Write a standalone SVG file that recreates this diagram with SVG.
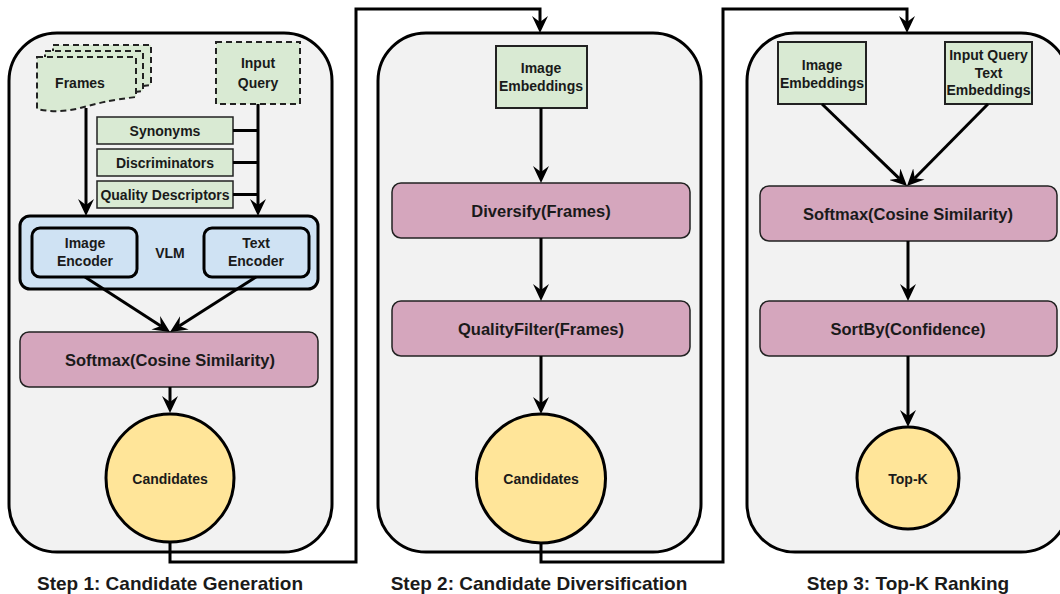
<svg xmlns="http://www.w3.org/2000/svg" width="1060" height="594" viewBox="0 0 1060 594">
<style>
text{font-family:"Liberation Sans",Arial,sans-serif;font-weight:bold;fill:#1a1a1a;text-anchor:middle}
.panel{fill:#f2f2f2;stroke:#000;stroke-width:3}
.green{fill:#d9ead3;stroke:#222;stroke-width:1.5}
.dash{fill:#d9ead3;stroke:#222;stroke-width:2;stroke-dasharray:6 4}
.blue{fill:#cfe2f3;stroke:#000;stroke-width:3}
.pink{fill:#d5a6bd;stroke:#222;stroke-width:1.5}
.yellow{fill:#ffe599;stroke:#000;stroke-width:3}
.edge{fill:none;stroke:#000;stroke-width:3}
.t12{font-size:14px}
.t13{font-size:16.5px}
.t16{font-size:19px}
</style>
<defs>
<marker id="arr" markerUnits="userSpaceOnUse" markerWidth="18" markerHeight="16" viewBox="0 0 18 16" refX="6" refY="8" orient="auto">
<path d="M0,0 L17,8 L0,16 L6,8 Z" fill="#000"/>
</marker>
</defs>
<g id="panel1"><rect class="panel" x="9" y="33" width="323" height="519" rx="48"/></g>
<g id="panel2"><rect class="panel" x="378" y="33" width="323" height="519" rx="48"/></g>
<g id="panel3"><rect class="panel" x="747" y="33" width="322" height="519" rx="48"/></g>

<g id="frames">
<path class="dash" d="M53,45 H151 V85 C125,88 110,92 96,96 C81,100 66,100 53,97 Z"/>
<path class="dash" d="M45,51 H143 V91 C117,94 102,98 88,102 C73,106 58,106 45,103 Z"/>
<path class="dash" d="M37,57 H136 V97 C110,100 95,104 80,108 C65,112 50,112 37,109 Z"/>
<text class="t12" x="80" y="88">Frames</text>
</g>
<g id="inputQuery">
<rect class="dash" x="216" y="42" width="84" height="62"/>
<text class="t12" x="258" y="68">Input</text>
<text class="t12" x="258" y="88">Query</text>
</g>
<g id="synonyms"><rect class="green" x="97" y="117" width="136" height="27"/><text class="t12" x="165" y="135.5">Synonyms</text></g>
<g id="discriminators"><rect class="green" x="97" y="149" width="136" height="27"/><text class="t12" x="165" y="167.5">Discriminators</text></g>
<g id="qualityDescriptors"><rect class="green" x="97" y="181" width="136" height="27"/><text class="t12" x="165" y="199.5">Quality Descriptors</text></g>

<g id="vlm">
<rect class="blue" x="20" y="216" width="298" height="73" rx="10"/>
<text class="t12" x="170" y="258">VLM</text>
</g>
<g id="imageEncoder">
<rect class="blue" x="32" y="228" width="105" height="49" rx="8"/>
<text class="t12" x="85" y="248">Image</text>
<text class="t12" x="85" y="266">Encoder</text>
</g>
<g id="textEncoder">
<rect class="blue" x="204" y="228" width="105" height="49" rx="8"/>
<text class="t12" x="256" y="248">Text</text>
<text class="t12" x="256" y="266">Encoder</text>
</g>
<g id="softmax1"><rect class="pink" x="20" y="332" width="298" height="55" rx="9"/><text class="t13" x="170" y="366">Softmax(Cosine Similarity)</text></g>
<g id="candidates1"><circle class="yellow" cx="170" cy="478" r="64"/><text class="t12" x="170" y="484">Candidates</text></g>

<g id="imageEmbeddings2">
<rect class="green" x="496" y="46" width="91" height="62" style="stroke-width:2"/>
<text class="t12" x="541" y="73">Image</text>
<text class="t12" x="541" y="91">Embeddings</text>
</g>
<g id="diversify"><rect class="pink" x="392" y="183" width="298" height="55" rx="9"/><text class="t13" x="541" y="217">Diversify(Frames)</text></g>
<g id="qualityFilter"><rect class="pink" x="392" y="301" width="298" height="55" rx="9"/><text class="t13" x="541" y="335">QualityFilter(Frames)</text></g>
<g id="candidates2"><circle class="yellow" cx="541" cy="478.5" r="64.5"/><text class="t12" x="541" y="484">Candidates</text></g>

<g id="imageEmbeddings3">
<rect class="green" x="778" y="42" width="88" height="62" style="stroke-width:2"/>
<text class="t12" x="822" y="70">Image</text>
<text class="t12" x="822" y="88">Embeddings</text>
</g>
<g id="textEmbeddings3">
<rect class="green" x="945" y="42" width="87" height="62" style="stroke-width:2"/>
<text class="t12" x="988.5" y="60">Input Query</text>
<text class="t12" x="988.5" y="77.5">Text</text>
<text class="t12" x="988.5" y="95">Embeddings</text>
</g>
<g id="softmax3"><rect class="pink" x="760" y="186" width="297" height="55" rx="9"/><text class="t13" x="908" y="220">Softmax(Cosine Similarity)</text></g>
<g id="sortBy"><rect class="pink" x="760" y="301" width="297" height="55" rx="9"/><text class="t13" x="908" y="335">SortBy(Confidence)</text></g>
<g id="topK"><circle class="yellow" cx="908" cy="478" r="51"/><text class="t12" x="908" y="484">Top-K</text></g>

<g id="connectors">
<path class="edge" d="M86,108 V205" marker-end="url(#arr)"/>
<path class="edge" d="M258,104 V205" marker-end="url(#arr)"/>
<path class="edge" d="M233,130.5 H258 M233,162.5 H258 M233,194.5 H258"/>
<path class="edge" d="M85,277 L160.8,326" marker-end="url(#arr)"/>
<path class="edge" d="M256,277 L179.3,326.1" marker-end="url(#arr)"/>
<path class="edge" d="M170,387 V402" marker-end="url(#arr)"/>
<path class="edge" d="M170,543 V562 H356 V9 H540 V22" marker-end="url(#arr)"/>
<path class="edge" d="M541,108 V172" marker-end="url(#arr)"/>
<path class="edge" d="M541,238 V290" marker-end="url(#arr)"/>
<path class="edge" d="M541,356 V403" marker-end="url(#arr)"/>
<path class="edge" d="M541,543 V562 H723 V9 H907 V22" marker-end="url(#arr)"/>
<path class="edge" d="M822,104 L899.1,178.4" marker-end="url(#arr)"/>
<path class="edge" d="M988,104 L914.7,178.2" marker-end="url(#arr)"/>
<path class="edge" d="M908,241 V290" marker-end="url(#arr)"/>
<path class="edge" d="M908,356 V416" marker-end="url(#arr)"/>
</g>

<g id="labels">
<text class="t16" x="170" y="590">Step 1: Candidate Generation</text>
<text class="t16" x="539" y="590">Step 2: Candidate Diversification</text>
<text class="t16" x="908" y="590">Step 3: Top-K Ranking</text>
</g>
</svg>
